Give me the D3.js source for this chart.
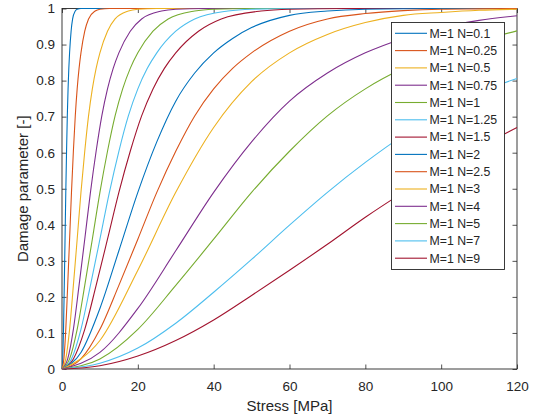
<!DOCTYPE html>
<html>
<head>
<meta charset="utf-8">
<script src="https://cdn.jsdelivr.net/npm/d3@7"></script>
<style>
  body { margin: 0; background: #fff; }
  text { font-family: "Liberation Sans", Arial, Helvetica, sans-serif; fill: #262626; }
</style>
</head>
<body>
<svg id="chart" width="533" height="419"></svg>
<script>
// Damage parameter against stress, M = 1, for a range of N values.
const nValues = ["0.1", "0.25", "0.5", "0.75", "1", "1.25", "1.5", "2", "2.5", "3", "4", "5", "7", "9"];
const seriesLabels = nValues.map(n => `M=1 N=${n}`);

// Stress samples [MPa] of each curve, one list per N value.
const stressByCurve = [
  [0, 0.2, 0.4, 0.6, 0.8, 1.0, 1.2, 1.4, 1.6, 1.8, 2.0, 2.4, 2.8, 3.5, 4, 5, 120],
  [0, 0.5, 1.0, 1.5, 2.0, 2.5, 3.0, 3.5, 4.0, 4.5, 5.0, 6, 7, 8.75, 10, 12.5, 120],
  [0, 1, 2, 3, 4, 5, 6, 7, 8, 9, 10, 12, 14, 17.5, 20, 25, 120],
  [0, 1.5, 3, 4.5, 6, 7.5, 9, 10.5, 12, 13.5, 15, 18, 21, 26.25, 30, 37.5, 120],
  [0, 2, 4, 6, 8, 10, 12, 14, 16, 18, 20, 24, 28, 35, 40, 50, 120],
  [0, 2.5, 5, 7.5, 10, 12.5, 15, 17.5, 20, 22.5, 25, 30, 35, 43.75, 50, 62.5, 120],
  [0, 3, 6, 9, 12, 15, 18, 21, 24, 27, 30, 36, 42, 52.5, 60, 75, 120],
  [0, 5, 10, 15, 20, 25, 30, 35, 40, 45, 50, 60, 70, 80, 100, 120],
  [0, 5, 10, 15, 20, 25, 30, 35, 40, 45, 50, 60, 70, 80, 90, 100, 110, 120],
  [0, 10, 20, 30, 40, 50, 60, 70, 80, 90, 100, 110, 120],
  [0, 10, 20, 30, 40, 50, 60, 70, 80, 90, 100, 110, 120],
  [0, 10, 20, 30, 40, 50, 60, 70, 80, 90, 100, 110, 120],
  [0, 10, 20, 30, 40, 50, 60, 70, 80, 90, 100, 110, 120],
  [0, 10, 20, 30, 40, 50, 60, 70, 80, 90, 100, 110, 120]
];

// Damage parameter [-] at those stresses.
const damageByCurve = [
  [0, 0.028, 0.11, 0.232, 0.36, 0.49, 0.604, 0.702, 0.777, 0.834, 0.877, 0.937, 0.971, 0.993, 0.998, 1, 1],
  [0, 0.028, 0.11, 0.232, 0.36, 0.49, 0.604, 0.702, 0.777, 0.834, 0.877, 0.937, 0.971, 0.993, 0.998, 1, 1],
  [0, 0.028, 0.11, 0.232, 0.36, 0.49, 0.604, 0.702, 0.777, 0.834, 0.877, 0.937, 0.971, 0.993, 0.998, 1, 1],
  [0, 0.028, 0.11, 0.232, 0.36, 0.49, 0.604, 0.702, 0.777, 0.834, 0.877, 0.937, 0.971, 0.993, 0.998, 1, 1],
  [0, 0.028, 0.11, 0.232, 0.36, 0.49, 0.604, 0.702, 0.777, 0.834, 0.877, 0.937, 0.971, 0.993, 0.998, 1, 1],
  [0, 0.028, 0.11, 0.232, 0.36, 0.49, 0.604, 0.702, 0.777, 0.834, 0.877, 0.937, 0.971, 0.993, 0.998, 1, 1],
  [0, 0.028, 0.11, 0.232, 0.36, 0.49, 0.604, 0.702, 0.777, 0.834, 0.877, 0.937, 0.971, 0.993, 0.998, 1, 1],
  [0, 0.046, 0.168, 0.328, 0.49, 0.63, 0.743, 0.821, 0.877, 0.917, 0.947, 0.981, 0.993, 0.998, 1, 1],
  [0, 0.028, 0.11, 0.232, 0.36, 0.49, 0.604, 0.702, 0.777, 0.834, 0.877, 0.937, 0.971, 0.986, 0.994, 0.998, 0.999, 1],
  [0, 0.079, 0.274, 0.49, 0.67, 0.797, 0.877, 0.928, 0.961, 0.981, 0.989, 0.995, 0.998],
  [0, 0.046, 0.168, 0.328, 0.49, 0.63, 0.743, 0.821, 0.877, 0.917, 0.947, 0.967, 0.98],
  [0, 0.028, 0.11, 0.232, 0.36, 0.49, 0.604, 0.702, 0.777, 0.834, 0.877, 0.91, 0.938],
  [0, 0.016, 0.058, 0.127, 0.213, 0.304, 0.399, 0.49, 0.573, 0.648, 0.714, 0.767, 0.806],
  [0, 0.009, 0.036, 0.079, 0.136, 0.204, 0.274, 0.346, 0.421, 0.49, 0.555, 0.615, 0.67]
];

const xTicks = [0, 20, 40, 60, 80, 100, 120];
const yTicks = [0, 0.1, 0.2, 0.3, 0.4, 0.5, 0.6, 0.7, 0.8, 0.9, 1];
const colors = ["#0072BD", "#D95319", "#EDB120", "#7E2F8E", "#77AC30", "#4DBEEE", "#A2142F"];

const svg = d3.select("#chart");
const plot = { left: 62, right: 517, top: 8.5, bottom: 369 };

const x = d3.scaleLinear().domain([0, 120]).range([plot.left, plot.right]);
const y = d3.scaleLinear().domain([0, 1]).range([plot.bottom, plot.top]);

const tickLen = 4.5;
const axisColor = "#262626";

function styleAxis(g) {
  g.select(".domain").remove();
  g.selectAll(".tick line").attr("stroke", axisColor).attr("stroke-width", 0.8);
  g.selectAll(".tick text").style("font-size", "13.5px").attr("fill", axisColor);
}

svg.append("g")
  .attr("transform", `translate(0,${plot.bottom})`)
  .call(d3.axisBottom(x).tickValues(xTicks).tickFormat(d3.format("d"))
    .tickSizeInner(-tickLen).tickSizeOuter(0).tickPadding(12))
  .call(styleAxis);

svg.append("g")
  .attr("transform", `translate(0,${plot.top})`)
  .call(d3.axisTop(x).tickValues(xTicks).tickFormat("")
    .tickSizeInner(-tickLen).tickSizeOuter(0))
  .call(styleAxis);

svg.append("g")
  .attr("transform", `translate(${plot.left},0)`)
  .call(d3.axisLeft(y).tickValues(yTicks).tickFormat(d => d === 0 || d === 1 ? d3.format("d")(d) : d3.format(".1f")(d))
    .tickSizeInner(-tickLen).tickSizeOuter(0).tickPadding(7))
  .call(styleAxis);

svg.append("g")
  .attr("transform", `translate(${plot.right},0)`)
  .call(d3.axisRight(y).tickValues(yTicks).tickFormat("")
    .tickSizeInner(-tickLen).tickSizeOuter(0))
  .call(styleAxis);

// axes box
svg.append("rect")
  .attr("x", plot.left).attr("y", plot.top)
  .attr("width", plot.right - plot.left).attr("height", plot.bottom - plot.top)
  .attr("fill", "none").attr("stroke", axisColor).attr("stroke-width", 0.9);

svg.append("clipPath").attr("id", "plot-clip")
  .append("rect")
  .attr("x", plot.left - 1).attr("y", plot.top - 1)
  .attr("width", plot.right - plot.left + 2).attr("height", plot.bottom - plot.top + 2);

const line = d3.line()
  .x(d => x(d[0]))
  .y(d => y(d[1]))
  .curve(d3.curveMonotoneX);

const series = seriesLabels.map((label, i) => ({
  label,
  color: colors[i % colors.length],
  points: stressByCurve[i].map((s, j) => [s, damageByCurve[i][j]])
}));

svg.append("g").attr("clip-path", "url(#plot-clip)")
  .selectAll("path")
  .data(series)
  .join("path")
  .attr("d", d => line(d.points))
  .attr("fill", "none")
  .attr("stroke", d => d.color)
  .attr("stroke-width", 1.1);

// axis labels
svg.append("text")
  .attr("x", (plot.left + plot.right) / 2).attr("y", 411)
  .attr("text-anchor", "middle")
  .style("font-size", "15px")
  .text("Stress [MPa]");

svg.append("text")
  .attr("transform", `translate(28,${(plot.top + plot.bottom) / 2}) rotate(-90)`)
  .attr("text-anchor", "middle")
  .style("font-size", "15px")
  .text("Damage parameter [-]");

// legend
const legend = svg.append("g");
legend.append("rect")
  .attr("x", 391.5).attr("y", 22.5).attr("width", 113).attr("height", 247)
  .attr("fill", "#fff").attr("stroke", axisColor).attr("stroke-width", 0.9);

const rows = legend.selectAll("g.row")
  .data(series)
  .join("g")
  .attr("class", "row")
  .attr("transform", (d, i) => `translate(0,${33.3 + i * 17.3})`);

rows.append("line")
  .attr("x1", 395).attr("x2", 427)
  .attr("stroke", d => d.color).attr("stroke-width", 1.1);

rows.append("text")
  .attr("x", 429.5).attr("y", 0).attr("dy", "0.35em")
  .style("font-size", "12.3px")
  .text(d => d.label);
</script>
</body>
</html>
